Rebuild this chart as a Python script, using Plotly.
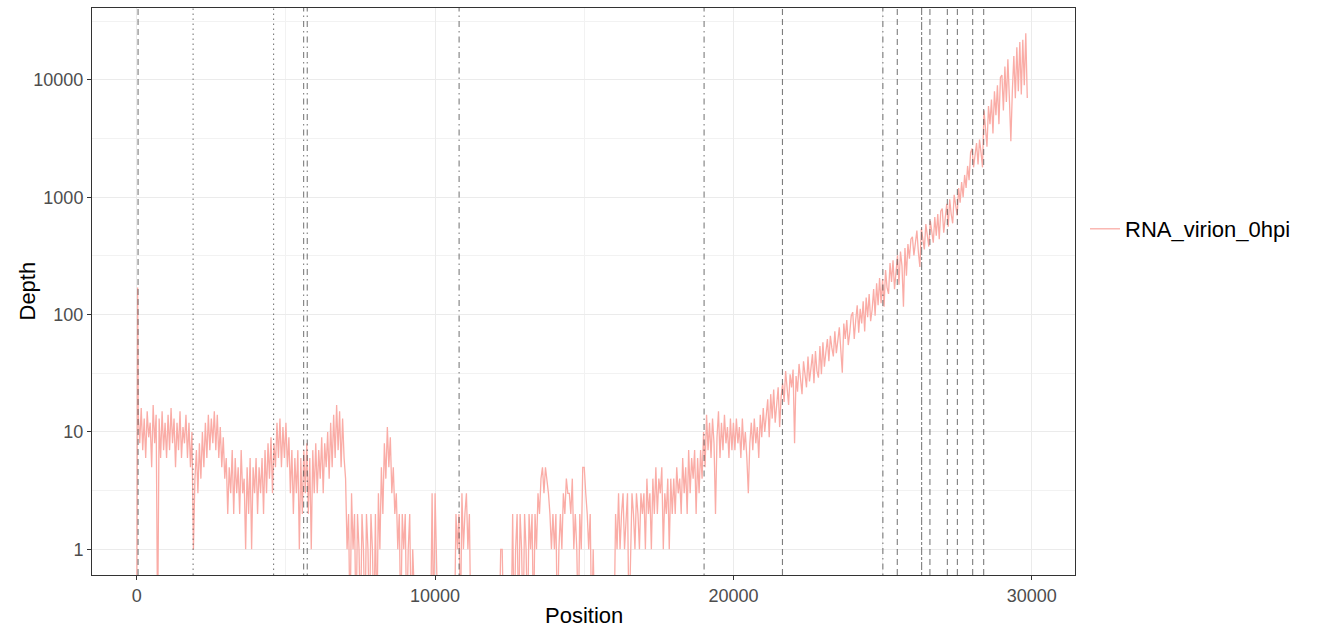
import plotly.graph_objects as go
import numpy as np

# ---- data ----
# leading spike at the 5' end
head_pos = [1, 30]
head_depth = [0, 170]

# depth sampled every 50 nt; block i covers 1000*i .. 1000*i+950 (block 0 starts at 50)
# 0 = no coverage
depth_blocks = [
    [14, 8, 16, 7, 13, 6, 15, 9, 12, 5, 17, 8, 14, 0, 13, 6, 15, 7, 12],
    [6, 14, 7, 16, 8, 13, 5, 12, 7, 15, 6, 11, 8, 14, 6, 12, 5, 10, 1, 4],
    [7, 3, 8, 4, 10, 5, 12, 6, 14, 7, 13, 8, 15, 7, 14, 6, 11, 5, 9, 4],
    [6, 2, 5, 3, 7, 2, 6, 3, 5, 2, 7, 3, 4, 1, 5, 2, 6, 1, 5, 3],
    [6, 2, 5, 3, 6, 2, 7, 3, 8, 4, 9, 3, 8, 5, 12, 6, 13, 5, 11, 6],
    [12, 5, 9, 3, 7, 2, 6, 3, 7, 1, 6, 2, 7, 3, 8, 2, 6, 1, 7, 3],
    [8, 3, 7, 4, 9, 3, 8, 5, 10, 4, 12, 5, 14, 6, 17, 7, 15, 5, 13, 6],
    [4, 1, 2, 0, 3, 1, 2, 0, 2, 1, 0, 2, 1, 0, 2, 1, 0, 2, 1, 0],
    [2, 0, 3, 1, 5, 2, 8, 4, 11, 5, 9, 3, 5, 2, 3, 1, 2, 0, 2, 1],
    [2, 0, 1, 2, 0, 1, 0, 0, 0, 0, 0, 0, 0, 0, 0, 0, 0, 0, 3, 0],
    [3, 0, 0, 0, 0, 0, 0, 0, 0, 0, 0, 0, 0, 0, 2, 1, 2, 0, 3, 1],
    [2, 3, 1, 2, 0, 0, 0, 0, 0, 0, 0, 0, 0, 0, 0, 0, 0, 0, 0, 0],
    [0, 0, 0, 0, 1, 1, 0, 0, 0, 0, 0, 0, 2, 0, 1, 2, 0, 2, 1, 0],
    [2, 1, 0, 2, 1, 2, 0, 2, 1, 3, 2, 4, 5, 3, 5, 4, 3, 2, 1, 2],
    [1, 2, 0, 1, 2, 1, 3, 2, 4, 3, 3, 2, 4, 1, 2, 1, 0, 2, 1, 5],
    [5, 3, 2, 1, 2, 0, 1, 0, 0, 0, 0, 0, 0, 0, 0, 0, 0, 0, 0, 0],
    [0, 2, 1, 3, 1, 2, 3, 1, 2, 3, 0, 1, 3, 2, 1, 3, 2, 1, 3, 2],
    [3, 1, 4, 2, 3, 1, 4, 2, 5, 2, 4, 3, 5, 1, 3, 2, 4, 1, 4, 2],
    [4, 2, 5, 3, 4, 2, 6, 3, 5, 2, 7, 3, 6, 4, 7, 2, 6, 3, 7, 4],
    [10, 5, 14, 7, 12, 6, 13, 8, 2, 9, 15, 6, 12, 7, 14, 8, 11, 6, 13, 7],
    [12, 7, 13, 8, 11, 6, 13, 7, 10, 6, 3, 8, 12, 7, 13, 8, 11, 6, 14, 9],
    [16, 10, 14, 19, 9, 21, 13, 23, 12, 17, 24, 11, 20, 26, 18, 33, 22, 17, 31, 24],
    [34, 8, 30, 22, 38, 26, 21, 40, 29, 24, 44, 27, 35, 46, 26, 49, 33, 29, 54, 31],
    [58, 36, 48, 62, 40, 66, 52, 44, 72, 47, 60, 78, 50, 32, 84, 62, 90, 55, 70, 98],
    [105, 62, 90, 120, 70, 112, 84, 130, 72, 140, 95, 150, 88, 110, 165, 98, 185, 120, 205, 125],
    [200, 117, 240, 170, 150, 275, 190, 290, 165, 240, 320, 180, 345, 260, 117, 370, 215, 400, 300, 440],
    [460, 320, 400, 520, 340, 255, 540, 420, 360, 590, 450, 380, 630, 520, 410, 680, 470, 720, 440, 760],
    [800, 500, 640, 880, 560, 960, 720, 600, 1050, 820, 700, 1200, 900, 1350, 1000, 1550, 1200, 1850, 1400, 2400],
    [2600, 1800, 2300, 2900, 1900, 3100, 2400, 1800, 5500, 3600, 2700, 6000, 4200, 6800, 3500, 8000, 5000, 9000, 4200, 10500],
    [11000, 5500, 13000, 6500, 15000, 7000, 3000, 8000, 16000, 7000, 19000, 8000, 21000, 7500, 22000, 9000, 25000, 7000],
]

# annotated genome positions and their line types
vline_pos = [44, 1889, 4587, 5594, 5715, 10805, 19017, 21644,
             25010, 25493, 26309, 26587, 27171, 27507, 28020, 28389]
vline_type = ["dashed", "dotted", "dotted", "dotdash", "dotdash", "dotdash",
              "dotdash", "dashed", "dotdash", "dashed", "twodash", "dashed",
              "dashed", "dashed", "dashed", "dashed"]

x_ticks = [0, 10000, 20000, 30000]
y_ticks = [1, 10, 100, 1000, 10000]
y_tick_text = ["1", "10", "100", "1000", "10000"]
series_name = "RNA_virion_0hpi"

# ---- build series ----
pos_list = list(head_pos)
depth_list = list(head_depth)
for i, block in enumerate(depth_blocks):
    start = 1000 * i + (50 if i == 0 else 0)
    for j, v in enumerate(block):
        pos_list.append(start + 50 * j)
        depth_list.append(v)
pos = np.array(pos_list, dtype=float)
depth = np.array(depth_list, dtype=float)
# zero depth -> -Inf on a log scale: drawn off the bottom of the panel
depth_plot = np.where(depth > 0, depth, 0.2)

dash_map = {
    "dashed": "6px,4px",
    "dotted": "1.5px,3.5px",
    "dotdash": "1.5px,4px,6px,4px",
    "twodash": "3px,2px,8px,2px",
}

fig = go.Figure()
fig.add_trace(go.Scatter(
    x=pos, y=depth_plot, mode="lines", name=series_name,
    line=dict(color="rgb(250,172,166)", width=1.3),
    showlegend=True,
))

shapes = []
for p, t in zip(vline_pos, vline_type):
    shapes.append(dict(type="line", xref="x", yref="paper", x0=p, x1=p, y0=0, y1=1,
                       line=dict(color="rgba(70,70,70,0.7)", width=1.1, dash=dash_map[t]),
                       layer="above"))

font_family = "Liberation Sans, Arial, Helvetica, sans-serif"
ymin, ymax = -0.219, 4.613

annotations = [
    dict(text="Position", xref="paper", yref="paper", x=0.5, y=-40 / 567, yanchor="middle",
         xanchor="center", showarrow=False, font=dict(size=22, color="#000000", family=font_family)),
    dict(text="Depth", xref="paper", yref="paper", x=-65 / 983, y=0.5, xanchor="center",
         yanchor="middle", textangle=-90, showarrow=False,
         font=dict(size=22, color="#000000", family=font_family)),
]

fig.update_layout(
    width=1317, height=633,
    margin=dict(l=92, r=242, t=8, b=58),
    paper_bgcolor="white", plot_bgcolor="white",
    font=dict(family=font_family, color="#000000"),
    shapes=shapes,
    annotations=annotations,
    legend=dict(x=1.0 + 10 / 983, y=(575 - 229) / 567, xanchor="left", yanchor="middle",
                font=dict(size=22, color="#000000", family=font_family),
                itemwidth=30, bgcolor="rgba(0,0,0,0)"),
    xaxis=dict(
        range=[-1500, 31450], tickvals=x_ticks, ticktext=[str(v) for v in x_ticks],
        showgrid=True, gridcolor="#EBEBEB", gridwidth=1.1,
        minor=dict(tickvals=[5000, 15000, 25000], showgrid=True, gridcolor="#F2F2F2", gridwidth=0.6, ticklen=0),
        zeroline=False, showline=True, linecolor="#333333", linewidth=1, mirror=True,
        ticks="outside", ticklen=4, tickcolor="#333333", tickwidth=1,
        tickfont=dict(size=18, color="#4D4D4D"), automargin=False,
    ),
    yaxis=dict(
        type="log", range=[ymin, ymax], tickvals=y_ticks, ticktext=y_tick_text,
        showgrid=True, gridcolor="#EBEBEB", gridwidth=1.1,
        minor=dict(tickvals=[10 ** (k + 0.5) for k in range(0, 5)], showgrid=True,
                   gridcolor="#F2F2F2", gridwidth=0.6, ticklen=0),
        zeroline=False, showline=True, linecolor="#333333", linewidth=1, mirror=True,
        ticks="outside", ticklen=4, tickcolor="#333333", tickwidth=1,
        tickfont=dict(size=18, color="#4D4D4D"), automargin=False,
    ),
)

fig.write_html("out.html", config={"displayModeBar": False},
               post_script="document.body.style.margin='0px';")
